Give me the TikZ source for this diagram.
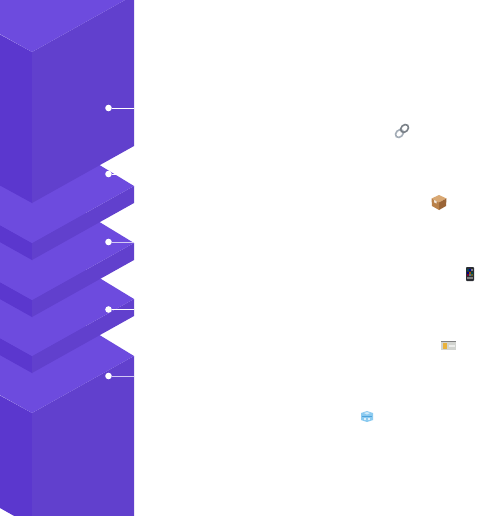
\documentclass[tikz,border=0pt]{standalone}
\usetikzlibrary{positioning, calc}
\definecolor{topface}{HTML}{6D4BDE}
\definecolor{rightface}{HTML}{6140CD}
\definecolor{leftface}{HTML}{5B37CE}
\definecolor{ringc}{HTML}{A3ACB6}
\definecolor{boxc}{HTML}{B9814A}
\definecolor{boxlight}{HTML}{D9A873}
\definecolor{boxdark}{HTML}{9A6436}
\definecolor{phonec}{HTML}{2B2D33}
\definecolor{cardc}{HTML}{D2D4D0}
\definecolor{cardy}{HTML}{E9B23C}
\definecolor{cubec}{HTML}{8CCBF0}
\definecolor{cubed}{HTML}{4FA3DC}
\tikzset{
  tick/.style={circle, fill=white, inner sep=0pt, minimum size=6.6pt},
  tickline/.style={white, line width=0.9pt},
  tickfaint/.style={white!70!topface, line width=0.9pt}
}

\begin{document}
\begin{tikzpicture}[x=1pt, y=-1pt]
  \clip (0,0) rectangle (484,516);
  \fill[white] (0,0) rectangle (484,516);

  % bottom block
  \fill[leftface] (-10,390) -- (32,413) -- (32,526) -- (0,508) -- (-10,502) -- cycle;
  \fill[rightface] (32,413) -- (134,356) -- (134,516) -- (32,526) -- cycle;
  \fill[topface] (32,413) -- (134,356) -- (32,294) -- (-70,356) -- cycle;
  % slabs
  \fill[leftface] (-70,299) -- (32,356) -- (32,373) -- (-70,316) -- cycle;
  \fill[rightface] (32,356) -- (134,299) -- (134,316) -- (32,373) -- cycle;
  \fill[topface] (32,356) -- (134,299) -- (32,237) -- (-70,299) -- cycle;

  \fill[leftface] (-70,243) -- (32,300) -- (32,317) -- (-70,260) -- cycle;
  \fill[rightface] (32,300) -- (134,243) -- (134,260) -- (32,317) -- cycle;
  \fill[topface] (32,300) -- (134,243) -- (32,181) -- (-70,243) -- cycle;

  \fill[leftface] (-70,186) -- (32,243) -- (32,260) -- (-70,203) -- cycle;
  \fill[rightface] (32,243) -- (134,186) -- (134,203) -- (32,260) -- cycle;
  \fill[topface] (32,243) -- (134,186) -- (32,124) -- (-70,186) -- cycle;
  % top block
  \fill[leftface] (-10,29) -- (32,52) -- (32,203) -- (-10,180) -- cycle;
  \fill[rightface] (32,52) -- (134,-5) -- (134,146) -- (32,203) -- cycle;
  \fill[topface] (32,52) -- (134,-5) -- (32,-62) -- (-70,-5) -- cycle;

  % ticks
  \node[tick] (tickone) at (108.5,108) {};
  \node[tick] (ticktwo) at (108.5,174) {};
  \node[tick] (tickthree) at (108.5,242) {};
  \node[tick] (tickfour) at (108.5,309.5) {};
  \node[tick] (tickfive) at (108.5,376) {};
  \coordinate (endone) at (134,108);
  \coordinate (endtwo) at (134,174);
  \coordinate (endthree) at (134,242);
  \coordinate (endfour) at (134,309.5);
  \coordinate (endfive) at (134,376);
  \draw[tickline] (tickone) -- (endone);
  \draw[tickline] (ticktwo) -- (endtwo);
  \draw[tickfaint] (tickthree) -- (endthree);
  \draw[tickline] (tickfour) -- (endfour);
  \draw[tickfaint] (tickfive) -- (endfive);

  % link icon
  \begin{scope}[shift={(402,131)}, rotate=45]
    \draw[ringc, line width=1.6pt] (-3.6,0) ellipse (4.4 and 3.4);
    \draw[ringc!75!black, line width=1.6pt] (3.6,0) ellipse (4.4 and 3.4);
  \end{scope}

  % box icon
  \fill[boxlight] (439,195) -- (446.5,198.5) -- (439,202.5) -- (431.5,198.5) -- cycle;
  \fill[boxdark] (439,202.5) -- (446.5,198.5) -- (446,206) -- (439,210) -- cycle;
  \fill[boxc] (439,202.5) -- (431.5,198.5) -- (432,206) -- (439,210) -- cycle;
  \fill[white!80!boxc] (434,200) -- (436.5,201.2) -- (436.5,203.5) -- (434,202.3) -- cycle;

  % phone icon
  \fill[phonec, rounded corners=0.8pt] (466,267) rectangle (474,281);
  \fill[teal!60!black] (467,269) rectangle (469,271);
  \fill[blue!60!black] (469,269) rectangle (471,271);
  \fill[gray] (471,269) rectangle (473,271);
  \fill[blue!50!black] (467,271.5) rectangle (469,273.5);
  \fill[orange!60!black] (469,271.5) rectangle (471,273.5);
  \fill[teal!60!black] (471,271.5) rectangle (473,273.5);
  \fill[purple!60!black] (467,274) rectangle (469,276);
  \fill[cyan!50!black] (469,274) rectangle (471,276);
  \fill[olive!60!black] (471,274) rectangle (473,276);
  \fill[gray] (467,276.5) rectangle (473,278.5);

  % card icon
  \fill[cardc] (441,341) rectangle (456,350);
  \fill[black!50] (441,341) rectangle (456,341.8);
  \fill[cardy] (443,343) rectangle (447,349);
  \fill[white!60!cardc] (449,345) rectangle (455,346.5);

  % cube icon
  \fill[cubec] (361,413) -- (367,411) -- (373,413) -- (373,420) -- (367,422) -- (361,420) -- cycle;
  \fill[cubed] (362,416) rectangle (372,417);
  \fill[white!60!cubec] (364,413) -- (367,412) -- (370,413) -- (367,414.5) -- cycle;
  \fill[white!70!cubec] (364,418) rectangle (366,420);
  \fill[white!70!cubec] (368,418) rectangle (370,420);
\end{tikzpicture}
\end{document}
